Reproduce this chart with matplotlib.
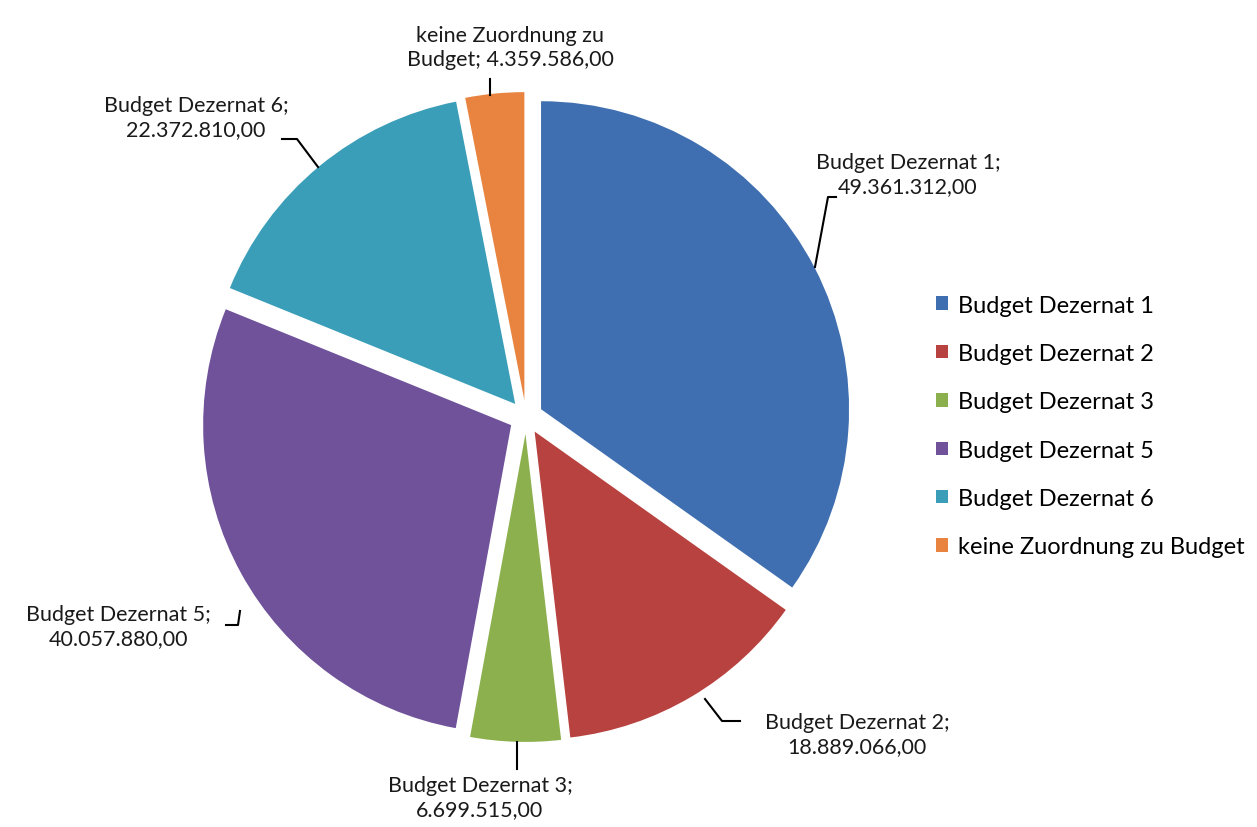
import matplotlib
matplotlib.use("Agg")
import matplotlib.pyplot as plt
from matplotlib.patches import Patch

categories = ["Budget Dezernat 1", "Budget Dezernat 2", "Budget Dezernat 3",
              "Budget Dezernat 5", "Budget Dezernat 6", "keine Zuordnung zu Budget"]
values = [49361312.00, 18889066.00, 6699515.00, 40057880.00, 22372810.00, 4359586.00]
colors = ["#3f6fb0", "#b8423f", "#8db04e", "#6f529a", "#3a9eb8", "#e8843f"]

def de_fmt(v):
    s = f"{v:,.2f}"
    return s.replace(",", "X").replace(".", ",").replace("X", ".")

W, H = 1257, 828
fig = plt.figure(figsize=(W / 100, H / 100), dpi=100)
ax = fig.add_axes([0, 0, 1, 1])

cx, cy, r = 526, H - 418, 308
wedges, _ = ax.pie(values, colors=colors, startangle=90, counterclock=False,
                   explode=[0.055 * r] * len(values), center=(cx, cy), radius=r,
                   wedgeprops=dict(linewidth=0), frame=True)
ax.set_xlim(0, W)
ax.set_ylim(0, H)
ax.set_aspect("equal")
ax.axis("off")

font = "Lato"
fs = 15.5

def Y(py):
    return H - py

layout = [
    (908, 175, "center", [(815, 268), (828, 198), (836, 198)]),
    (857, 735, "center", [(705, 700), (722, 722), (740, 722)]),
    (480, 798, "center", [(517, 743), (517, 770)]),
    (118, 627, "center", [(240, 612), (238, 626), (226, 626)]),
    (196, 118, "center", [(318, 168), (297, 140), (282, 140)]),
    (510, 48, "center", [(490, 96), (490, 80)]),
]
label_texts = [
    f"{categories[0]};\n{de_fmt(values[0])}",
    f"{categories[1]};\n{de_fmt(values[1])}",
    f"{categories[2]};\n{de_fmt(values[2])}",
    f"{categories[3]};\n{de_fmt(values[3])}",
    f"{categories[4]};\n{de_fmt(values[4])}",
    f"keine Zuordnung zu\nBudget; {de_fmt(values[5])}",
]
for (tx, ty, ha, pts), txt in zip(layout, label_texts):
    ax.text(tx, Y(ty), txt, ha=ha, va="center", fontsize=fs, family=font,
            color="#1a1a1a", linespacing=1.3)
    ax.plot([p[0] for p in pts], [Y(p[1]) for p in pts], color="black", lw=1.5)

handles = [Patch(facecolor=c, edgecolor="none") for c in colors]
ax.legend(handles, categories, loc="center left", bbox_to_anchor=(936 / W, 1 - 427 / H),
          frameon=False, prop={"family": font, "size": 17},
          handlelength=0.5, handleheight=0.5, handletextpad=0.45, labelspacing=1.16,
          borderaxespad=0, borderpad=0)

fig.savefig("out.png", dpi=100, facecolor="white")
